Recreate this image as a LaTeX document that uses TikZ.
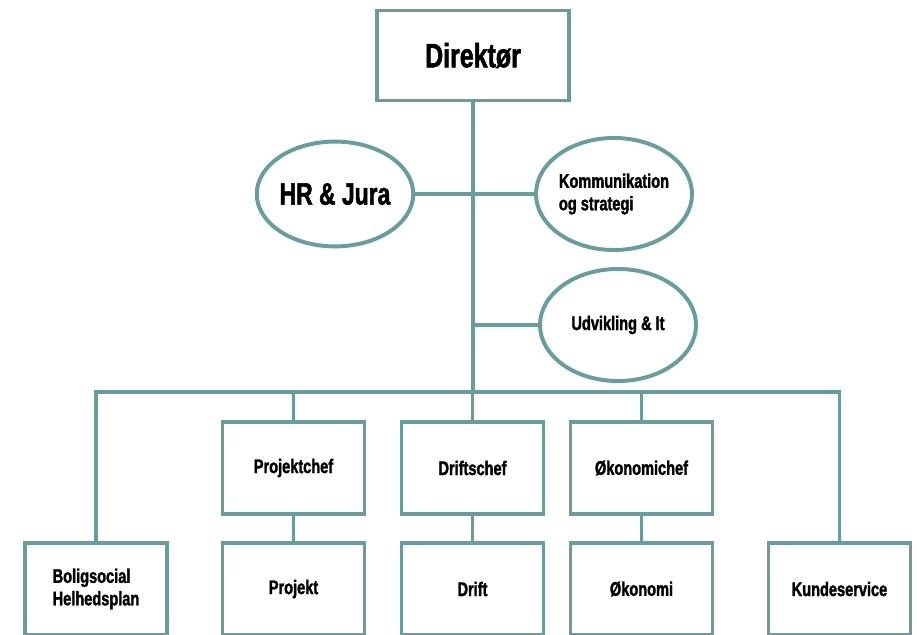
\documentclass[tikz,border=0pt]{standalone}
\usepackage{fontspec}
\setmainfont{Liberation Sans}[FakeStretch=0.74, BoldFeatures={FakeBold=1.6}]
\usepackage{xcolor}
\usepackage{tikz}
\usetikzlibrary{positioning, shapes.geometric}
\definecolor{orgteal}{RGB}{102,158,158}

\begin{document}
\begin{tikzpicture}[x=0.025cm, y=-0.025cm,
    orgline/.style={orgteal, line width=2.8pt},
    orgbox/.style={draw=orgteal, line width=2.8pt, fill=white, rectangle,
                   minimum width=3.55cm, minimum height=2.32cm, inner sep=0pt,
                   font=\fontsize{14}{16}\selectfont\bfseries, align=left},
    orgoval/.style={draw=orgteal, line width=2.8pt, fill=white, ellipse,
                    minimum width=3.9cm, minimum height=2.62cm, inner sep=0pt,
                    font=\fontsize{14}{16}\selectfont\bfseries, align=left}]
    \clip (0,0) rectangle (917,635);
    \fill[white] (0,0) rectangle (917,635);

    % --- Ledelse ---
    \node[orgbox, minimum width=4.82cm, minimum height=2.25cm,
          font=\fontsize{24}{26}\selectfont\bfseries] (dir) at (473,55.5) {Direktør};
    \coordinate (bus) at (473,392);

    % --- Stabe (ovaler) ---
    \node[orgoval, font=\fontsize{22}{24}\selectfont\bfseries] (hr) at (335,194) {HR \& Jura};
    \node[orgoval, minimum height=2.8cm] (komm) at (614,194) {Kommunikation\\og strategi};
    \node[orgoval, minimum height=2.8cm] (udv) at (618,325) {Udvikling \& It};

    % --- Chefer ---
    \node[orgbox] (pchef) at (293.5,468) {Projektchef};
    \node[orgbox] (dchef) at (472.5,468) {Driftschef};
    \node[orgbox] (ochef) at (641.5,468) {Økonomichef};

    % --- Afdelinger ---
    \node[orgbox] (bolig) at (96,589) {Boligsocial\\Helhedsplan};
    \node[orgbox] (projekt) at (293.5,589) {Projekt};
    \node[orgbox] (drift) at (472.5,589) {Drift};
    \node[orgbox] (okon) at (641.5,589) {Økonomi};
    \node[orgbox] (kunde) at (839.5,589) {Kundeservice};

    % --- Forbindelser ---
    \draw[orgline] (dir.south) -- (bus);
    \draw[orgline] (hr.east) -- (komm.west);
    \draw[orgline] (udv.west) -- (udv.west -| dir.south);
    \draw[orgline] (bolig.north) -- (bolig.north |- bus) -- (kunde.north |- bus) -- (kunde.north);
    \foreach \n in {pchef, dchef, ochef} {
      \draw[orgline] (\n.north) -- (\n.north |- bus);
    }
    \draw[orgline] (pchef.south) -- (projekt.north);
    \draw[orgline] (dchef.south) -- (drift.north);
    \draw[orgline] (ochef.south) -- (okon.north);
\end{tikzpicture}
\end{document}
